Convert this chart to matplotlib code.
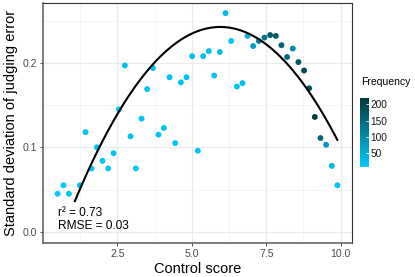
import numpy as np
import matplotlib
matplotlib.use("Agg")
import matplotlib.pyplot as plt
from matplotlib.colors import LinearSegmentedColormap

plt.rcParams["font.family"] = ["Liberation Sans", "DejaVu Sans"]

# data
control = [0.49, 0.69, 0.87, 1.24, 1.43, 1.63, 1.81, 2.00, 2.19, 2.37,
           2.55, 2.75, 2.94, 3.12, 3.31, 3.50, 3.69, 3.88, 4.06, 4.25,
           4.44, 4.63, 4.82, 5.01, 5.20, 5.38, 5.57, 5.75, 5.94, 6.13,
           6.32, 6.51, 6.70, 6.87, 7.06, 7.25, 7.44, 7.63, 7.82, 8.01,
           8.20, 8.39, 8.58, 8.77, 8.94, 9.13, 9.32, 9.51, 9.70, 9.89]
sd_error = [0.045, 0.055, 0.045, 0.055, 0.118, 0.075, 0.100, 0.084, 0.075, 0.093,
            0.145, 0.197, 0.113, 0.075, 0.134, 0.169, 0.194, 0.115, 0.123, 0.183,
            0.105, 0.177, 0.183, 0.208, 0.096, 0.208, 0.214, 0.185, 0.213, 0.259,
            0.226, 0.172, 0.176, 0.232, 0.220, 0.226, 0.230, 0.233, 0.232, 0.221,
            0.207, 0.217, 0.201, 0.191, 0.170, 0.136, 0.111, 0.103, 0.078, 0.055]
frequency = [7, 12, 18, 20, 22, 14, 20, 18, 16, 20,
             22, 25, 18, 15, 20, 22, 25, 18, 20, 24,
             16, 22, 25, 28, 15, 26, 28, 20, 30, 35,
             12, 20, 22, 40, 75, 110, 135, 175, 165, 160,
             150, 100, 175, 190, 180, 218, 150, 80, 35, 20]

# quadratic fit shown in the chart (coefficients)
fit_coef = [-0.00865, 0.103, -0.064]
fit_range = [1.07, 9.886]
r2_text = "r\u00b2 = 0.73"
rmse_text = "RMSE = 0.03"

cmap = LinearSegmentedColormap.from_list("freq", ["#00CCFF", "#043A3B"])

fig = plt.figure(figsize=(4.15, 2.77), dpi=100)
ax = fig.add_axes([0.1036, 0.1238, 0.7439, 0.8654])

sc = ax.scatter(control, sd_error, c=frequency, cmap=cmap, s=18,
                linewidths=0, zorder=3)

xf = np.linspace(fit_range[0], fit_range[1], 200)
ax.plot(xf, np.polyval(fit_coef, xf), color="black", lw=1.5, zorder=4)

ax.text(0.5, 0.0186, r2_text, fontsize=8.6, color="black", zorder=5)
ax.text(0.5, 0.0028, rmse_text, fontsize=8.6, color="black", zorder=5)

ax.set_xlim(0.0, 10.37)
ax.set_ylim(-0.013, 0.271)
ax.set_xticks([2.5, 5.0, 7.5, 10.0])
ax.set_xticklabels(["2.5", "5.0", "7.5", "10.0"])
ax.set_xticks([1.25, 3.75, 6.25, 8.75], minor=True)
ax.set_yticks([0.0, 0.1, 0.2])
ax.set_yticklabels(["0.0", "0.1", "0.2"])
ax.set_yticks([0.05, 0.15, 0.25], minor=True)
ax.grid(which="major", color="#EBEBEB", lw=0.9)
ax.grid(which="minor", color="#F2F2F2", lw=0.5)
ax.set_axisbelow(True)
ax.tick_params(which="major", length=2.5, width=0.6, color="#333333",
               labelsize=7.6, labelcolor="#4D4D4D", pad=2)
ax.tick_params(which="minor", length=0)
for side in ["left", "bottom"]:
    ax.spines[side].set_color("#666666")
    ax.spines[side].set_linewidth(1.2)
for side in ["top", "right"]:
    ax.spines[side].set_color("#333333")
    ax.spines[side].set_linewidth(0.8)

ax.set_xlabel("Control score", fontsize=10.5, labelpad=2)
ax.set_ylabel("Standard deviation of judging error", fontsize=10.5, labelpad=3)

cax = fig.add_axes([360 / 415, 1 - 167.3 / 277, 9 / 415, 69 / 277])
cb = fig.colorbar(sc, cax=cax, ticks=[50, 100, 150, 200])
cb.outline.set_visible(False)
cax.tick_params(length=2, width=0.6, color="white", direction="in",
                labelsize=7.3, labelcolor="#1A1A1A", pad=1)
fig.text(361 / 415, 1 - 81.7 / 277, "Frequency", fontsize=7.5,
         va="center", ha="left")

fig.savefig("out.png", dpi=100)
